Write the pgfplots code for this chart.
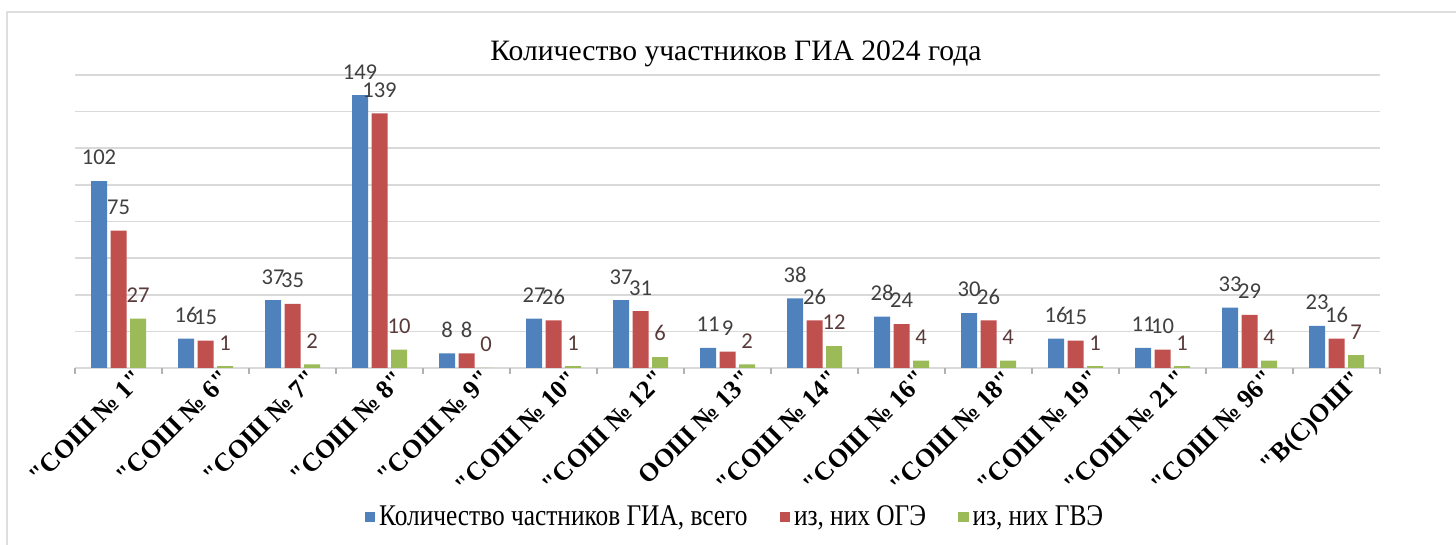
\documentclass[border=0pt]{standalone}
\usepackage{fontspec}
\setmainfont{Liberation Serif}
\newfontfamily\lblfont{Carlito}
\newfontfamily\tickfont[Ligatures=TeXOff]{Liberation Serif}
\newfontfamily\legfont[FakeStretch=0.845]{Liberation Serif}
\usepackage{pgfplots}
\pgfplotsset{compat=1.18}
\definecolor{sblue}{HTML}{4F81BD}
\definecolor{sred}{HTML}{C0504D}
\definecolor{sgreen}{HTML}{9BBB59}
\definecolor{gridgray}{HTML}{D9D9D9}
\definecolor{lblgray}{HTML}{404040}
\definecolor{lblbrown}{HTML}{5A3A3A}

\begin{document}
\begin{tikzpicture}
\useasboundingbox (-37.5pt,-88.5pt) rectangle (690.5pt,184pt);
\draw[gray!25, line width=0.8pt] (-34pt,-88.5pt) -- (-34pt,178pt) -- (690.5pt,178pt);
\node[font=\fontsize{14.8pt}{18pt}\selectfont] at (330.5pt,157pt) {Количество участников ГИА 2024 года};
\begin{axis}[
  at={(0pt,0pt)}, anchor=south west,
  width=652.5pt, height=146.5pt, scale only axis,
  ybar=1.75pt, bar width=8pt,
  xmin=-0.5, xmax=14.5, ymin=0, ymax=160,
  xtick={0,...,14},
  xticklabels={"СОШ № 1","СОШ № 6","СОШ № 7","СОШ № 8","СОШ № 9","СОШ № 10","СОШ № 12",ООШ № 13","СОШ № 14","СОШ № 16","СОШ № 18","СОШ № 19","СОШ № 21","СОШ № 96","В(С)ОШ"},
  minor xtick={-0.5,0.5,...,14.5},
  ytick={0,20,...,160}, yticklabels={},
  ymajorgrids, grid style={gridgray, line width=0.8pt},
  axis line style={draw=none},
  xtick pos=bottom, ytick pos=left,
  tick align=outside,
  major tick length=0pt, minor tick length=3pt,
  minor tick style={gray!60, line width=0.6pt},
  xticklabel style={rotate=45, anchor=north east, inner sep=1pt,
    xshift=6pt, yshift=-4pt,
    font=\tickfont\bfseries\fontsize{13pt}{15pt}\selectfont},
  nodes near coords={\pgfmathprintnumber[assume math mode=true]{\pgfplotspointmeta}},
  every node near coord/.append style={font=\lblfont\fontsize{11.3pt}{13pt}\selectfont,
    text=lblgray, anchor=south, yshift=4.5pt},
  legend columns=3,
  legend style={at={(0.5065,-0.5085)}, anchor=center, draw=none, fill=none,
    font=\legfont\fontsize{15pt}{17pt}\selectfont,
    /tikz/every even column/.append style={column sep=14pt}},
  legend image code/.code={\fill[#1] (0pt,-2.6pt) rectangle (5.2pt,2.6pt);},
]
\addplot[fill=sblue, draw=none] coordinates {
  (0,102) (1,16) (2,37) (3,149) (4,8) (5,27) (6,37) (7,11)
  (8,38) (9,28) (10,30) (11,16) (12,11) (13,33) (14,23)};
\addplot[fill=sred, draw=none] coordinates {
  (0,75) (1,15) (2,35) (3,139) (4,8) (5,26) (6,31) (7,9)
  (8,26) (9,24) (10,26) (11,15) (12,10) (13,29) (14,16)};
\addplot[fill=sgreen, draw=none,
  every node near coord/.append style={text=lblbrown}] coordinates {
  (0,27) (1,1) (2,2) (3,10) (4,0) (5,1) (6,6) (7,2)
  (8,12) (9,4) (10,4) (11,1) (12,1) (13,4) (14,7)};
\legend{{Количество частников ГИА, всего},{из, них ОГЭ},{из, них ГВЭ}}
\end{axis}
\end{tikzpicture}
\end{document}
